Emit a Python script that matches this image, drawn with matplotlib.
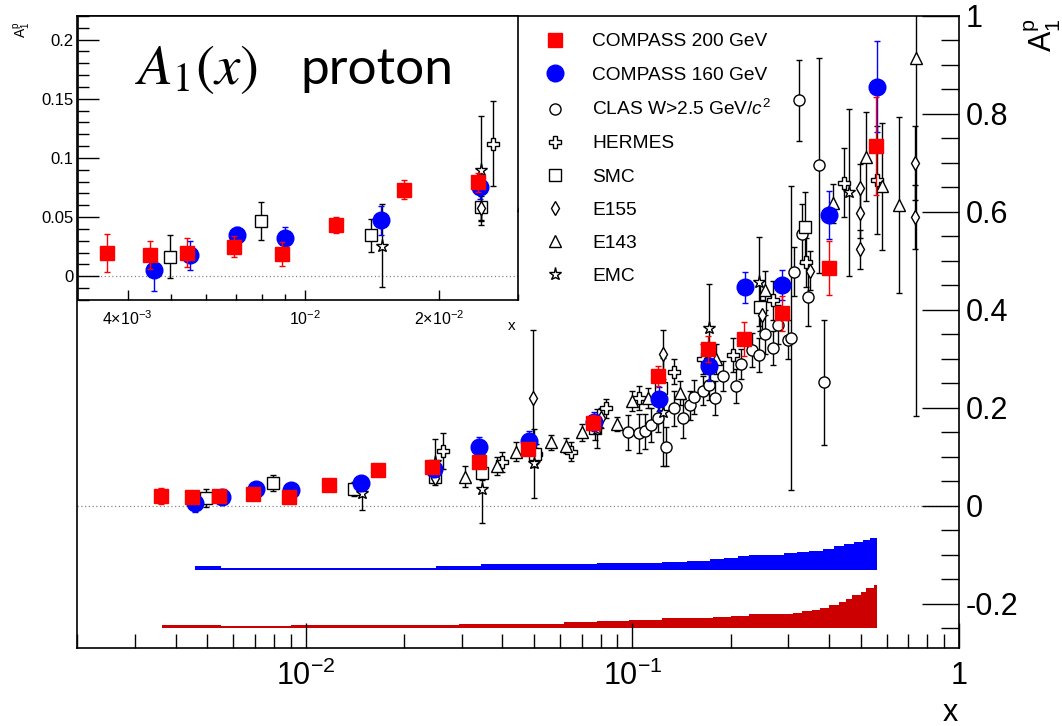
from __future__ import annotations

import matplotlib

matplotlib.use("Agg")
import matplotlib.pyplot as plt
import numpy as np
from matplotlib.ticker import FixedFormatter, FixedLocator, MultipleLocator, NullFormatter

plt.rcParams["font.family"] = ["Liberation Sans", "DejaVu Sans"]
plt.rcParams["mathtext.fontset"] = "custom"
plt.rcParams["mathtext.rm"] = "Liberation Sans"
plt.rcParams["mathtext.it"] = "Liberation Sans:italic"
plt.rcParams["mathtext.bf"] = "Liberation Sans:bold"

# COMPASS 200 GeV
c200_x = [0.0036, 0.00449, 0.00543, 0.00692, 0.00887, 0.01175, 0.01664, 0.0244, 0.034,
          0.0479, 0.0757, 0.1197, 0.170, 0.219, 0.288, 0.400, 0.558]
c200_y = [0.020, 0.018, 0.020, 0.025, 0.019, 0.0433, 0.0733, 0.0795, 0.090,
          0.116, 0.170, 0.265, 0.320, 0.340, 0.393, 0.486, 0.735]
c200_e = [0.016, 0.012, 0.012, 0.009, 0.010, 0.007, 0.008, 0.008, 0.010,
          0.012, 0.015, 0.020, 0.027, 0.035, 0.036, 0.055, 0.100]

# COMPASS 160 GeV
c160_x = [0.00458, 0.00553, 0.00705, 0.00903, 0.0148, 0.0247, 0.034, 0.0484, 0.0766,
          0.121, 0.172, 0.222, 0.288, 0.400, 0.562]
c160_y = [0.0053, 0.0177, 0.0346, 0.032, 0.0472, 0.0756, 0.121, 0.133, 0.172,
          0.218, 0.286, 0.446, 0.451, 0.594, 0.856]
c160_e = [0.018, 0.012, 0.007, 0.010, 0.012, 0.010, 0.020, 0.020, 0.020,
          0.025, 0.030, 0.032, 0.030, 0.049, 0.093]

# CLAS W > 2.5 GeV/c^2
clas_x = [0.097, 0.1045, 0.109, 0.114, 0.120, 0.127, 0.134, 0.143, 0.150, 0.155, 0.165,
          0.172, 0.179, 0.190, 0.207, 0.215, 0.233, 0.245, 0.255, 0.269, 0.280, 0.300,
          0.305, 0.313, 0.324, 0.330, 0.344, 0.372, 0.386]
clas_y = [0.150, 0.148, 0.152, 0.165, 0.180, 0.121, 0.199, 0.179, 0.205, 0.223, 0.235,
          0.247, 0.220, 0.265, 0.245, 0.290, 0.318, 0.308, 0.350, 0.322, 0.370, 0.339,
          0.342, 0.478, 0.828, 0.556, 0.427, 0.695, 0.252]
clas_e = [0.035, 0.040, 0.035, 0.035, 0.030, 0.040, 0.035, 0.040, 0.030, 0.035, 0.030,
          0.030, 0.035, 0.030, 0.035, 0.030, 0.035, 0.035, 0.040, 0.035, 0.040, 0.040,
          0.310, 0.050, 0.083, 0.060, 0.060, 0.220, 0.128]

# HERMES
hermes_x = [0.0264, 0.0399, 0.0508, 0.0649, 0.083, 0.105, 0.134, 0.165, 0.203, 0.27, 0.34, 0.444, 0.56]
hermes_y = [0.112, 0.090, 0.107, 0.111, 0.199, 0.220, 0.274, 0.300, 0.308, 0.420, 0.497, 0.660, 0.665]
hermes_e = [0.036, 0.020, 0.020, 0.020, 0.020, 0.025, 0.025, 0.030, 0.035, 0.040, 0.050, 0.070, 0.110]

# SMC
smc_x = [0.00497, 0.00797, 0.01403, 0.0248, 0.0347, 0.0505, 0.077, 0.122, 0.173, 0.246, 0.337]
smc_y = [0.0166, 0.0466, 0.0348, 0.0584, 0.067, 0.106, 0.160, 0.240, 0.290, 0.407, 0.570]
smc_e = [0.018, 0.016, 0.014, 0.012, 0.015, 0.020, 0.025, 0.030, 0.040, 0.050, 0.070]

# E155
e155_x = [0.0248, 0.0498, 0.080, 0.124, 0.175, 0.250, 0.350, 0.497, 0.497, 0.497, 0.735, 0.735]
e155_y = [0.058, 0.220, 0.180, 0.310, 0.300, 0.390, 0.480, 0.648, 0.597, 0.524, 0.700, 0.590]
e155_e = [0.010, 0.140, 0.020, 0.050, 0.020, 0.030, 0.040, 0.050, 0.050, 0.040, 0.075, 0.065]

# E143
e143_x = [0.0308, 0.0386, 0.0441, 0.0563, 0.0627, 0.0703, 0.0895, 0.100, 0.112, 0.140,
          0.180, 0.254, 0.411, 0.521, 0.582, 0.657, 0.738]
e143_y = [0.060, 0.082, 0.111, 0.130, 0.123, 0.150, 0.167, 0.214, 0.220, 0.230,
          0.300, 0.440, 0.618, 0.713, 0.652, 0.614, 0.914]
e143_e = [0.022, 0.018, 0.020, 0.015, 0.015, 0.017, 0.015, 0.020, 0.020, 0.025,
          0.030, 0.040, 0.040, 0.090, 0.130, 0.180, 0.730]

# EMC
emc_x = [0.0149, 0.0248, 0.0347, 0.050, 0.078, 0.124, 0.172, 0.245, 0.46]
emc_y = [0.026, 0.0896, 0.035, 0.087, 0.158, 0.192, 0.363, 0.458, 0.640]
emc_e = [0.035, 0.046, 0.070, 0.070, 0.040, 0.110, 0.090, 0.090, 0.170]

# systematic bands (step histograms: bin edges and heights above the band base)
blue_band_base = -0.131
blue_band_edges = [0.00458, 0.0055, 0.025, 0.0345, 0.078, 0.123, 0.147, 0.173, 0.191, 0.211, 0.228,
                   0.292, 0.32, 0.348, 0.384, 0.414, 0.444, 0.478, 0.51, 0.535, 0.561]
blue_band_h = [0.008, 0.005, 0.008, 0.0116, 0.0136, 0.016, 0.019, 0.022, 0.025, 0.029,
               0.031, 0.034, 0.037, 0.040, 0.044, 0.049, 0.053, 0.057, 0.061, 0.066]
red_band_base = -0.249
red_band_edges = [0.00363, 0.0055, 0.009, 0.0294, 0.062, 0.078, 0.098, 0.123, 0.176, 0.2, 0.228,
                  0.31, 0.33, 0.355, 0.375, 0.40, 0.43, 0.45, 0.47, 0.50, 0.52, 0.55, 0.561]
red_band_h = [0.0054, 0.0035, 0.0061, 0.0082, 0.0116, 0.015, 0.017, 0.0197, 0.0224, 0.025, 0.0279,
              0.031, 0.034, 0.037, 0.041, 0.046, 0.053, 0.060, 0.067, 0.074, 0.082, 0.088]

main_xticks = [0.01, 0.1, 1.0]
main_xticklabels = ["$10^{-2}$", "$10^{-1}$", "1"]
main_yticks = [-0.2, 0.0, 0.2, 0.4, 0.6, 0.8, 1.0]
main_yticklabels = ["-0.2", "0", "0.2", "0.4", "0.6", "0.8", "1"]
inset_xticks = [0.004, 0.01, 0.02]
inset_xticklabels = [r"$4{\times}10^{-3}$", "$10^{-2}$", r"$2{\times}10^{-2}$"]
inset_yticks = [0.0, 0.05, 0.1, 0.15, 0.2]
inset_yticklabels = ["0", "0.05", "0.1", "0.15", "0.2"]

OPEN = dict(ls="none", mfc="white", mec="black", mew=1.0)


def draw_points(ax, with_labels: bool) -> None:
    others = [
        (clas_x, clas_y, clas_e, "o", 8, "CLAS W>2.5 GeV/$\\mathit{c}^{2}$"),
        (hermes_x, hermes_y, hermes_e, "P", 9, "HERMES"),
        (smc_x, smc_y, smc_e, "s", 8.5, "SMC"),
        (e155_x, e155_y, e155_e, "d", 7.5, "E155"),
        (e143_x, e143_y, e143_e, "^", 8.5, "E143"),
        (emc_x, emc_y, emc_e, "*", 9.5, "EMC"),
    ]
    handles = {}
    for xs, ys, es, marker, size, label in others:
        ax.errorbar(xs, ys, yerr=es, fmt="none", ecolor="black", elinewidth=1.0,
                    capsize=2.5, capthick=1.0, zorder=2)
        (line,) = ax.plot(xs, ys, marker=marker, ms=size, zorder=3, **OPEN)
        handles[label] = line

    ax.errorbar(c160_x, c160_y, yerr=c160_e, fmt="none", ecolor="#0000ff", elinewidth=1.0,
                capsize=2.5, capthick=1.0, zorder=4)
    (blue,) = ax.plot(c160_x, c160_y, ls="none", marker="o", ms=12, color="#0000ff",
                      mec="#0000ff", zorder=5)
    ax.errorbar(c200_x, c200_y, yerr=c200_e, fmt="none", ecolor="#ff0000", elinewidth=1.0,
                capsize=2.5, capthick=1.0, zorder=6)
    (red,) = ax.plot(c200_x, c200_y, ls="none", marker="s", ms=10, color="#ff0000",
                     mec="#ff0000", zorder=7)
    ax.axhline(0.0, color="#888888", ls=(0, (1, 2)), lw=0.9, zorder=1)

    if with_labels:
        order = [red, blue] + [handles[o[-1]] for o in others]
        names = ["COMPASS 200 GeV", "COMPASS 160 GeV"] + [o[-1] for o in others]
        fig = ax.figure
        fig.legend(order, names, loc="upper left",
                   bbox_to_anchor=(545 / 1062, 1 - 33 / 726), bbox_transform=fig.transFigure,
                   frameon=False, fontsize=13.8, handlelength=1.0, handletextpad=1.45,
                   labelspacing=0.82, borderpad=0, borderaxespad=0, numpoints=1)


def draw_bands(ax) -> None:
    bx = np.array(blue_band_edges)
    bh = np.append(blue_band_h, blue_band_h[-1])
    ax.fill_between(bx, blue_band_base, blue_band_base + bh, step="post",
                    color="#0000ff", lw=0, zorder=1)
    rx = np.array(red_band_edges)
    rh = np.append(red_band_h, red_band_h[-1])
    ax.fill_between(rx, red_band_base, red_band_base + rh, step="post",
                    color="#cc0000", lw=0, zorder=1)


def main() -> int:
    fig = plt.figure(figsize=(10.62, 7.26), dpi=100)

    ax = fig.add_axes([0.0728, 0.1074, 0.9030 - 0.0728, 0.978 - 0.1074])
    ax.set_xscale("log")
    draw_bands(ax)
    draw_points(ax, with_labels=True)
    ax.set_xlim(0.002, 1.0)
    ax.set_ylim(-0.29, 1.0)
    ax.xaxis.set_major_locator(FixedLocator(main_xticks))
    ax.xaxis.set_major_formatter(FixedFormatter(main_xticklabels))
    ax.xaxis.set_minor_locator(FixedLocator(
        [m * d for d in (0.001, 0.01, 0.1) for m in range(2, 10)]))
    ax.xaxis.set_minor_formatter(NullFormatter())
    ax.tick_params(axis="x", which="major", direction="in", length=18, width=1.0,
                   labelsize=22, pad=9, top=False)
    ax.tick_params(axis="x", which="minor", direction="in", length=10, width=1.0, top=False)
    ax.yaxis.tick_right()
    ax.yaxis.set_major_locator(FixedLocator(main_yticks))
    ax.yaxis.set_major_formatter(FixedFormatter(main_yticklabels))
    ax.yaxis.set_minor_locator(MultipleLocator(0.05))
    ax.tick_params(axis="y", which="major", direction="in", length=27, width=1.0,
                   labelsize=22, pad=5)
    ax.tick_params(axis="y", which="minor", direction="in", length=13, width=1.0)
    ax.tick_params(axis="y", which="both", left=False, labelleft=False,
                   right=True, labelright=True)
    for spine in ax.spines.values():
        spine.set_linewidth(1.2)
    fig.text(950 / 1062, 1 - 713 / 726, "x", fontsize=22, ha="center", va="center")
    fig.text(1043 / 1062, 1 - 52 / 726, r"$\mathrm{A}_{1}^{\mathrm{p}}$", fontsize=22,
             rotation=90, ha="center", va="bottom")

    axin = fig.add_axes([0.0732, 0.5868, 0.4877 - 0.0732, 0.978 - 0.5868], zorder=5)
    axin.set_facecolor("white")
    axin.set_xscale("log")
    draw_points(axin, with_labels=False)
    axin.set_xlim(0.00309, 0.0300)
    axin.set_ylim(-0.02, 0.22)
    axin.xaxis.set_major_locator(FixedLocator(inset_xticks))
    axin.xaxis.set_major_formatter(FixedFormatter(inset_xticklabels))
    axin.xaxis.set_minor_locator(FixedLocator([0.005, 0.006, 0.007, 0.008, 0.009, 0.03]))
    axin.xaxis.set_minor_formatter(NullFormatter())
    axin.tick_params(axis="x", which="major", direction="in", length=7, width=1.0,
                     labelsize=11.5, pad=7)
    axin.tick_params(axis="x", which="minor", direction="in", length=4, width=1.0)
    axin.yaxis.set_major_locator(FixedLocator(inset_yticks))
    axin.yaxis.set_major_formatter(FixedFormatter(inset_yticklabels))
    axin.yaxis.set_minor_locator(MultipleLocator(0.01))
    axin.tick_params(axis="y", which="major", direction="in", length=15, width=1.0,
                     labelsize=12, pad=3)
    axin.tick_params(axis="y", which="minor", direction="in", length=8, width=1.0)
    for spine in axin.spines.values():
        spine.set_linewidth(1.2)
    fig.text(512 / 1062, 1 - 326 / 726, "x", fontsize=11, ha="center", va="center")
    fig.text(22 / 1062, 1 - 38 / 726, r"$\mathrm{A}_{1}^{\mathrm{p}}$", fontsize=10,
             rotation=90, ha="center", va="bottom")

    fig.text(135 / 1062, 1 - 84 / 726, "$A_1(x)$", fontsize=41, math_fontfamily="stix",
             ha="left", va="baseline", zorder=10)
    fig.text(300 / 1062, 1 - 84 / 726, "proton", fontsize=37, family="Lato",
             ha="left", va="baseline", zorder=10)

    fig.savefig("out.png", dpi=100)
    plt.close(fig)
    return 0


if __name__ == "__main__":
    raise SystemExit(main())
